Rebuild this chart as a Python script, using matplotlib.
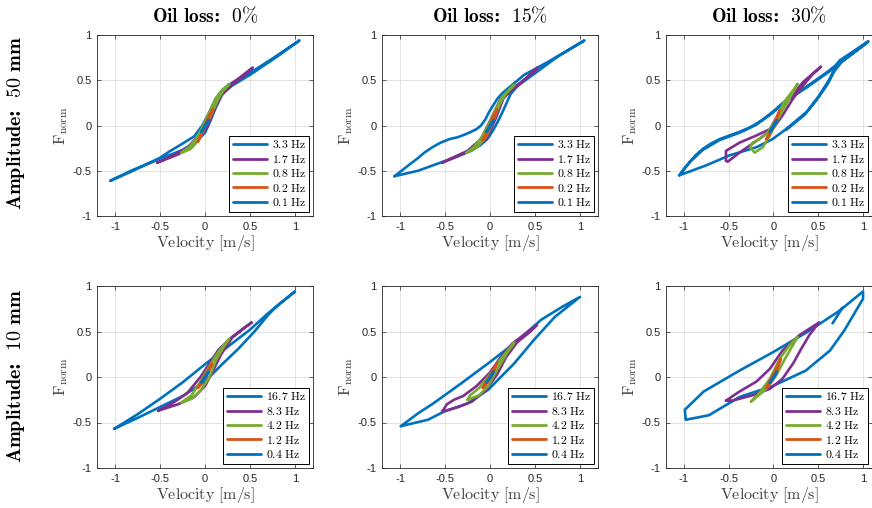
import matplotlib
matplotlib.use("Agg")
import matplotlib.pyplot as plt
import numpy as np

plt.rcParams['font.family'] = ['Liberation Sans', 'DejaVu Sans']
plt.rcParams['mathtext.fontset'] = 'cm'
plt.rcParams['axes.unicode_minus'] = False

# colours (MATLAB default order)
c_blue = (0.0, 0.447, 0.741)
c_orange = (0.85, 0.325, 0.098)
c_green = (0.466, 0.674, 0.188)
c_purple = (0.494, 0.184, 0.556)
axcol = (0.15, 0.15, 0.15)

col_titles = ['Oil loss: 0%', 'Oil loss: 15%', 'Oil loss: 30%']
row_titles = ['Amplitude: 50 mm', 'Amplitude: 10 mm']
freqs_50 = ['3.3', '1.7', '0.8', '0.2', '0.1']
freqs_10 = ['16.7', '8.3', '4.2', '1.2', '0.4']
colors = [c_blue, c_purple, c_green, c_orange, c_blue]

# ---- amplitude 50 mm, oil loss 0% ----
a50_o0_l1 = [(-1.05, -0.61), (-0.8, -0.49), (-0.55, -0.39), (-0.4, -0.29), (-0.25, -0.2), (-0.12, -0.12),
             (-0.03, 0.0), (0.05, 0.15), (0.12, 0.3), (0.2, 0.4), (0.3, 0.47), (0.5, 0.58), (0.75, 0.74),
             (1.05, 0.94), (0.8, 0.76), (0.5, 0.56), (0.3, 0.44), (0.2, 0.36), (0.12, 0.2), (0.06, 0.05),
             (0.0, -0.08), (-0.1, -0.18), (-0.25, -0.27), (-0.4, -0.33), (-0.55, -0.38), (-0.8, -0.5), (-1.05, -0.61)]
a50_o0_l2 = [(-0.53, -0.41), (-0.35, -0.33), (-0.2, -0.25), (-0.08, -0.12), (0.0, 0.02), (0.08, 0.18), (0.15, 0.32),
             (0.25, 0.43), (0.4, 0.54), (0.53, 0.64), (0.45, 0.56), (0.3, 0.45), (0.18, 0.33), (0.1, 0.16),
             (0.03, 0.0), (-0.05, -0.13), (-0.15, -0.24), (-0.3, -0.32), (-0.53, -0.41)]
a50_o0_l3 = [(-0.26, -0.3), (-0.18, -0.24), (-0.1, -0.15), (-0.03, -0.02), (0.05, 0.15), (0.12, 0.3), (0.18, 0.38),
             (0.27, 0.46), (0.2, 0.38), (0.14, 0.28), (0.07, 0.12), (0.0, -0.02), (-0.07, -0.16), (-0.16, -0.26),
             (-0.26, -0.3)]
a50_o0_l4 = [(-0.08, -0.18), (-0.03, -0.07), (0.02, 0.06), (0.09, 0.18), (0.05, 0.1), (0.0, -0.02),
             (-0.05, -0.12), (-0.08, -0.18)]
a50_o0_l5 = [(-0.04, -0.07), (0.0, 0.0), (0.04, 0.06), (0.01, 0.0), (-0.04, -0.07)]

# ---- amplitude 50 mm, oil loss 15% ----
a50_o15_l1 = [(-1.06, -0.56), (-0.97, -0.49), (-0.88, -0.42), (-0.8, -0.36), (-0.73, -0.3), (-0.64, -0.24),
              (-0.55, -0.19), (-0.45, -0.15), (-0.36, -0.13), (-0.28, -0.1), (-0.21, -0.07), (-0.15, -0.04),
              (-0.1, 0.0), (-0.05, 0.07), (-0.01, 0.15), (0.04, 0.23), (0.085, 0.3), (0.14, 0.36), (0.2, 0.41),
              (0.38, 0.56), (0.64, 0.7), (1.05, 0.94),
              (0.75, 0.76), (0.49, 0.57), (0.31, 0.44), (0.23, 0.35), (0.18, 0.24), (0.13, 0.13), (0.085, 0.04),
              (0.03, -0.06), (-0.03, -0.15), (-0.11, -0.22), (-0.21, -0.28), (-0.38, -0.35), (-0.55, -0.41),
              (-0.8, -0.5), (-1.06, -0.56)]
a50_o15_l2 = [(-0.53, -0.41), (-0.38, -0.34), (-0.25, -0.28), (-0.1, -0.15), (0.01, 0.07), (0.12, 0.3),
              (0.31, 0.44), (0.53, 0.64), (0.4, 0.52), (0.25, 0.41), (0.15, 0.3), (0.06, 0.07), (-0.04, -0.15),
              (-0.2, -0.27), (-0.53, -0.41)]
a50_o15_l3 = [(-0.26, -0.3), (-0.18, -0.24), (-0.1, -0.14), (-0.02, 0.0), (0.06, 0.17), (0.13, 0.31),
              (0.27, 0.45), (0.18, 0.36), (0.11, 0.24), (0.04, 0.06), (-0.04, -0.12), (-0.14, -0.24), (-0.26, -0.3)]
a50_o15_l4 = [(-0.08, -0.16), (-0.03, -0.06), (0.02, 0.06), (0.08, 0.18), (0.05, 0.1), (0.0, -0.02),
              (-0.05, -0.12), (-0.08, -0.16)]
a50_o15_l5 = [(-0.04, -0.07), (0.0, 0.0), (0.04, 0.06), (0.01, 0.0), (-0.04, -0.07)]

# ---- amplitude 50 mm, oil loss 30% ----
a50_o30_l1 = [(-1.05, -0.55), (-1.0, -0.48), (-0.94, -0.41), (-0.87, -0.33), (-0.79, -0.26), (-0.7, -0.2),
              (-0.6, -0.15), (-0.49, -0.11), (-0.38, -0.07), (-0.28, -0.03), (-0.19, 0.02), (-0.1, 0.08),
              (-0.01, 0.15), (0.14, 0.28), (0.37, 0.43), (0.6, 0.59), (0.74, 0.7), (1.06, 0.93),
              (0.74, 0.72), (0.7, 0.67), (0.63, 0.52), (0.51, 0.33), (0.37, 0.15), (0.14, -0.04),
              (-0.01, -0.15), (-0.19, -0.24), (-0.49, -0.33), (-0.75, -0.44), (-1.05, -0.55),
              (-0.94, -0.41), (-0.79, -0.27), (-0.6, -0.16), (-0.38, -0.08), (-0.19, 0.01), (-0.01, 0.14),
              (0.14, 0.27), (0.37, 0.42), (0.6, 0.58), (0.74, 0.69), (1.05, 0.92), (0.76, 0.7),
              (0.68, 0.6), (0.6, 0.45), (0.48, 0.28), (0.35, 0.12), (0.14, -0.05)]
a50_o30_l2 = [(-0.53, -0.39), (-0.53, -0.28), (-0.38, -0.19), (-0.19, -0.11), (-0.04, -0.04), (0.07, 0.15),
              (0.18, 0.3), (0.33, 0.48), (0.53, 0.65), (0.44, 0.57), (0.33, 0.44), (0.22, 0.3), (0.1, 0.11),
              (-0.01, -0.04), (-0.16, -0.15), (-0.38, -0.3), (-0.51, -0.4), (-0.53, -0.39)]
a50_o30_l3 = [(-0.23, -0.19), (-0.26, -0.24), (-0.21, -0.3), (-0.12, -0.24), (-0.04, -0.11), (0.07, 0.11),
              (0.18, 0.3), (0.27, 0.46), (0.22, 0.39), (0.12, 0.26), (0.03, 0.07), (-0.06, -0.07),
              (-0.16, -0.15), (-0.23, -0.19)]
a50_o30_l4 = [(-0.08, -0.15), (-0.03, -0.06), (0.02, 0.05), (0.07, 0.17), (0.04, 0.09), (0.0, -0.02),
              (-0.05, -0.11), (-0.08, -0.15)]
a50_o30_l5 = [(-0.04, -0.07), (0.0, 0.0), (0.04, 0.06), (0.01, 0.0), (-0.04, -0.07)]

# ---- amplitude 10 mm, oil loss 0% ----
a10_o0_l1 = [(-1.01, -0.57), (-0.75, -0.41), (-0.5, -0.24), (-0.25, -0.06), (0.0, 0.14), (0.25, 0.33),
             (0.5, 0.52), (0.7, 0.7), (1.0, 0.94), (0.8, 0.78), (0.7, 0.68), (0.55, 0.5), (0.37, 0.31),
             (0.18, 0.13), (0.0, -0.05), (-0.25, -0.21), (-0.5, -0.33), (-0.75, -0.45), (-1.01, -0.57)]
a10_o0_l2 = [(-0.52, -0.37), (-0.35, -0.28), (-0.2, -0.18), (-0.05, 0.0), (0.05, 0.15), (0.15, 0.3),
             (0.3, 0.44), (0.52, 0.6), (0.45, 0.55), (0.3, 0.43), (0.18, 0.25), (0.08, 0.05), (0.0, -0.1),
             (-0.12, -0.22), (-0.3, -0.3), (-0.52, -0.37)]
a10_o0_l3 = [(-0.26, -0.28), (-0.15, -0.2), (-0.05, -0.05), (0.05, 0.12), (0.15, 0.28), (0.27, 0.42),
             (0.2, 0.32), (0.12, 0.18), (0.05, 0.0), (-0.05, -0.15), (-0.15, -0.24), (-0.26, -0.28)]
a10_o0_l4 = [(-0.08, -0.12), (-0.03, -0.03), (0.03, 0.07), (0.08, 0.15), (0.05, 0.08), (0.0, -0.02),
             (-0.05, -0.09), (-0.08, -0.12)]
a10_o0_l5 = [(-0.04, -0.06), (0.0, 0.0), (0.04, 0.06), (0.01, 0.0), (-0.04, -0.06)]

# ---- amplitude 10 mm, oil loss 15% ----
a10_o15_l1 = [(-0.99, -0.54), (-0.8, -0.4), (-0.63, -0.29), (-0.32, -0.07), (-0.02, 0.15), (0.27, 0.37),
              (0.57, 0.63), (0.8, 0.77), (1.0, 0.88), (0.72, 0.66), (0.49, 0.41), (0.27, 0.15),
              (-0.02, -0.14), (-0.25, -0.29), (-0.51, -0.38), (-0.69, -0.47), (-0.99, -0.54)]
a10_o15_l2 = [(-0.53, -0.38), (-0.48, -0.3), (-0.4, -0.25), (-0.3, -0.21), (-0.15, -0.1), (0.0, 0.05),
              (0.12, 0.22), (0.25, 0.37), (0.4, 0.48), (0.52, 0.57), (0.45, 0.5), (0.3, 0.38), (0.18, 0.22),
              (0.08, 0.03), (-0.05, -0.15), (-0.2, -0.27), (-0.35, -0.33), (-0.53, -0.38)]
a10_o15_l3 = [(-0.25, -0.25), (-0.22, -0.2), (-0.12, -0.12), (0.0, 0.03), (0.12, 0.2), (0.27, 0.38),
              (0.18, 0.25), (0.08, 0.08), (-0.02, -0.1), (-0.12, -0.2), (-0.25, -0.25)]
a10_o15_l4 = [(-0.08, -0.12), (-0.03, -0.03), (0.03, 0.07), (0.08, 0.15), (0.05, 0.08), (0.0, -0.02),
              (-0.05, -0.09), (-0.08, -0.12)]
a10_o15_l5 = [(-0.04, -0.06), (0.0, 0.0), (0.04, 0.06), (0.01, 0.0), (-0.04, -0.06)]

# ---- amplitude 10 mm, oil loss 30% ----
a10_o30_l1 = [(0.66, 0.59), (0.77, 0.76), (0.74, 0.73), (1.0, 0.94), (1.0, 0.86), (0.79, 0.51), (0.63, 0.29),
              (0.36, 0.07), (-0.01, -0.1), (-0.38, -0.22), (-0.72, -0.42), (-0.98, -0.47), (-0.99, -0.36),
              (-0.78, -0.16), (-0.38, 0.07), (-0.01, 0.27), (0.37, 0.49), (0.74, 0.73)]
a10_o30_l2 = [(-0.53, -0.26), (-0.38, -0.16), (-0.19, -0.05), (-0.04, 0.09), (0.1, 0.29), (0.29, 0.46),
              (0.51, 0.6), (0.4, 0.46), (0.31, 0.31), (0.22, 0.15), (0.1, -0.02), (-0.04, -0.13),
              (-0.23, -0.2), (-0.46, -0.26), (-0.53, -0.26)]
a10_o30_l3 = [(-0.25, -0.27), (-0.16, -0.18), (-0.04, -0.02), (0.07, 0.2), (0.18, 0.35), (0.27, 0.44),
              (0.14, 0.22), (0.03, 0.02), (-0.08, -0.13), (-0.19, -0.22), (-0.25, -0.27)]
a10_o30_l4 = [(-0.08, -0.12), (-0.03, -0.02), (0.03, 0.09), (0.08, 0.2), (0.05, 0.1), (0.0, -0.02),
              (-0.05, -0.09), (-0.08, -0.12)]
a10_o30_l5 = [(-0.04, -0.06), (0.0, 0.0), (0.04, 0.06), (0.01, 0.0), (-0.04, -0.06)]

panels = [
    [[a50_o0_l1, a50_o0_l2, a50_o0_l3, a50_o0_l4, a50_o0_l5],
     [a50_o15_l1, a50_o15_l2, a50_o15_l3, a50_o15_l4, a50_o15_l5],
     [a50_o30_l1, a50_o30_l2, a50_o30_l3, a50_o30_l4, a50_o30_l5]],
    [[a10_o0_l1, a10_o0_l2, a10_o0_l3, a10_o0_l4, a10_o0_l5],
     [a10_o15_l1, a10_o15_l2, a10_o15_l3, a10_o15_l4, a10_o15_l5],
     [a10_o30_l1, a10_o30_l2, a10_o30_l3, a10_o30_l4, a10_o30_l5]],
]
row_freqs = [freqs_50, freqs_10]


def _parses(s):
    from matplotlib.mathtext import MathTextParser
    try:
        MathTextParser('agg').parse(s, dpi=100)
        return True
    except Exception:
        return False


def bold_label(s):
    # "Oil loss: 0%" -> bold mathtext; \colon avoids the relation spacing of ':'
    head, tail = s.split(':')
    head = head.replace(' ', r'\ ')
    tail = tail.strip().replace(' ', r'\ ').replace('%', r'\%')
    out = r'$\mathbf{%s\colon\ \ %s}$' % (head, tail)
    if not _parses(out):
        out = r'$\mathbf{%s}{\mathbf{:}}\ \mathbf{%s}$' % (head, tail)
    return out


W, H = 872, 508
fig = plt.figure(figsize=(W / 100, H / 100), dpi=100)

col_left = [97, 382, 666]
col_width = [216, 216, 206]
col_xmax = [1.2, 1.2, 1.1]
row_top = [35, 286]
row_h = [181, 182]

for r in range(2):
    for c in range(3):
        ax = fig.add_axes([col_left[c] / W, (H - row_top[r] - row_h[r]) / H,
                           col_width[c] / W, row_h[r] / H])
        for k, loop in enumerate(panels[r][c]):
            arr = np.array(loop)
            ax.plot(arr[:, 0], arr[:, 1], color=colors[k], lw=1.9,
                    label=r'$\mathbf{%s}\ \mathrm{Hz}$' % row_freqs[r][k],
                    solid_joinstyle='round', solid_capstyle='round')
        ax.set_xlim(-1.2, col_xmax[c])
        ax.set_ylim(-1, 1)
        ax.set_xticks([-1, -0.5, 0, 0.5, 1])
        ax.set_xticklabels(['-1', '-0.5', '0', '0.5', '1'])
        ax.set_yticks([-1, -0.5, 0, 0.5, 1])
        ax.set_yticklabels(['-1', '-0.5', '0', '0.5', '1'])
        ax.grid(True, color=(0.87, 0.87, 0.87), lw=0.6)
        ax.set_axisbelow(True)
        for s in ax.spines.values():
            s.set_color(axcol)
            s.set_linewidth(0.6)
        ax.tick_params(direction='in', length=3, width=0.5, colors=axcol,
                       labelsize=8, top=True, right=True, pad=4)
        ax.set_xlabel(r'$\mathrm{Velocity\ [m/s]}$', fontsize=11.5, color=(0.25, 0.25, 0.25), labelpad=1)
        ax.set_ylabel(r'$\mathrm{F}_{\mathrm{norm}}$', fontsize=11.5, color=(0.25, 0.25, 0.25), labelpad=2)
        leg = ax.legend(loc='lower right', fontsize=8.5, fancybox=False, framealpha=1,
                        edgecolor='black', borderaxespad=0.3, handlelength=2.9,
                        labelspacing=0.2, borderpad=0.3, handletextpad=0.4)
        leg.get_frame().set_linewidth(0.7)
        for ln in leg.get_lines():
            ln.set_linewidth(2.0)
        if r == 0:
            ax.set_title(bold_label(col_titles[c]), fontsize=14, pad=9)

row_cy = [123, 376]
for r in range(2):
    fig.text(16 / W, 1 - row_cy[r] / H, bold_label(row_titles[r]), rotation=90,
             ha='center', va='center', fontsize=14.5)

fig.savefig('out.png', dpi=100)
